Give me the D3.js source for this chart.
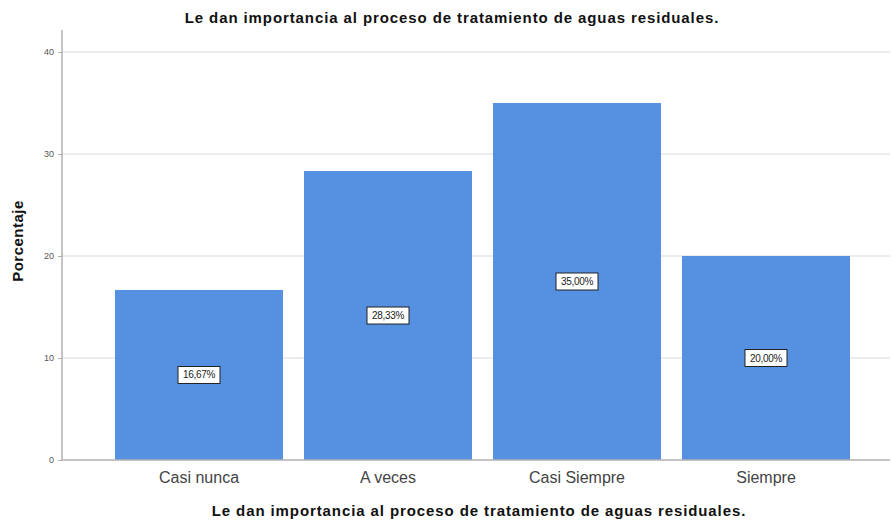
<!DOCTYPE html>
<html><head><meta charset="utf-8">
<script src="https://cdn.jsdelivr.net/npm/d3@7"></script>
<style>body{margin:0;background:#fff}svg{display:block}text{font-family:"Liberation Sans",Arial,sans-serif}</style>
</head><body>
<svg id="c" width="892" height="525"></svg>
<script>
const categories = ["Casi nunca", "A veces", "Casi Siempre", "Siempre"];
const values = [16.67, 28.33, 35.00, 20.00];
const labels = ["16,67%", "28,33%", "35,00%", "20,00%"];
const yTicks = [0, 10, 20, 30, 40];
const title = "Le dan importancia al proceso de tratamiento de aguas residuales.";
const yTitle = "Porcentaje";

const svg = d3.select("#c");
const x = d3.scaleBand().domain(categories).range([104.5, 860.5]).paddingInner(0.111).paddingOuter(0.0555);
const y = d3.scaleLinear().domain([0, 40]).range([460, 52]);
const axL = 62, axR = 890;

// gridlines
svg.append("g").selectAll("line").data(yTicks.filter(d => d > 0)).join("line")
  .attr("x1", axL).attr("x2", axR).attr("y1", d => y(d)).attr("y2", d => y(d))
  .attr("stroke", "#d8d8d8").attr("stroke-width", 1);

// bars
svg.append("g").selectAll("rect").data(values).join("rect")
  .attr("x", (d, i) => x(categories[i])).attr("width", x.bandwidth())
  .attr("y", d => y(d)).attr("height", d => y(0) - y(d))
  .attr("fill", "#5591e0");

// axes lines
svg.append("line").attr("x1", axL).attr("x2", axL).attr("y1", 30).attr("y2", 460).attr("stroke", "#b0b0b0").attr("stroke-width", 1.5);
svg.append("line").attr("x1", axL).attr("x2", axR).attr("y1", 460).attr("y2", 460).attr("stroke", "#b0b0b0").attr("stroke-width", 1.5);

// y ticks
const yAxis = svg.append("g").attr("transform", `translate(${axL},0)`)
  .call(d3.axisLeft(y).tickValues(yTicks).tickSize(4).tickFormat(d3.format("d")));
yAxis.select(".domain").remove();
yAxis.selectAll("line").attr("stroke", "#b0b0b0");
yAxis.selectAll("text").attr("fill", "#555").style("font-size", "9px").attr("x", -8);

// x axis labels
const xAxis = svg.append("g").attr("transform", "translate(0,460)")
  .call(d3.axisBottom(x).tickSize(0));
xAxis.select(".domain").remove();
xAxis.selectAll("text").attr("fill", "#444").style("font-size", "16px").attr("dy", "0").attr("y", 23);

// value labels
const lg = svg.append("g").selectAll("g").data(values).join("g")
  .attr("transform", (d, i) => `translate(${x(categories[i]) + x.bandwidth() / 2},${(y(d) + y(0)) / 2})`);
lg.append("rect").attr("x", -21).attr("y", -8.5).attr("width", 42).attr("height", 17)
  .attr("fill", "#fff").attr("stroke", "#222").attr("stroke-width", 1);
lg.append("text").text((d, i) => labels[i]).attr("text-anchor", "middle").attr("dy", "0.35em")
  .style("font-size", "10px").style("letter-spacing", "-0.3px").attr("fill", "#222");

// titles
svg.append("text").attr("x", 452).attr("y", 23).attr("text-anchor", "middle")
  .style("font-size", "15px").style("font-weight", "bold").style("letter-spacing", "0.9px").attr("fill", "#111").text(title);
svg.append("text").attr("x", 479).attr("y", 516).attr("text-anchor", "middle")
  .style("font-size", "15px").style("font-weight", "bold").style("letter-spacing", "0.9px").attr("fill", "#111").text(title);
svg.append("text").attr("transform", "translate(23,241) rotate(-90)").attr("text-anchor", "middle")
  .style("font-size", "15px").style("font-weight", "bold").style("letter-spacing", "0.5px").attr("fill", "#111").text(yTitle);
</script>
</body></html>
